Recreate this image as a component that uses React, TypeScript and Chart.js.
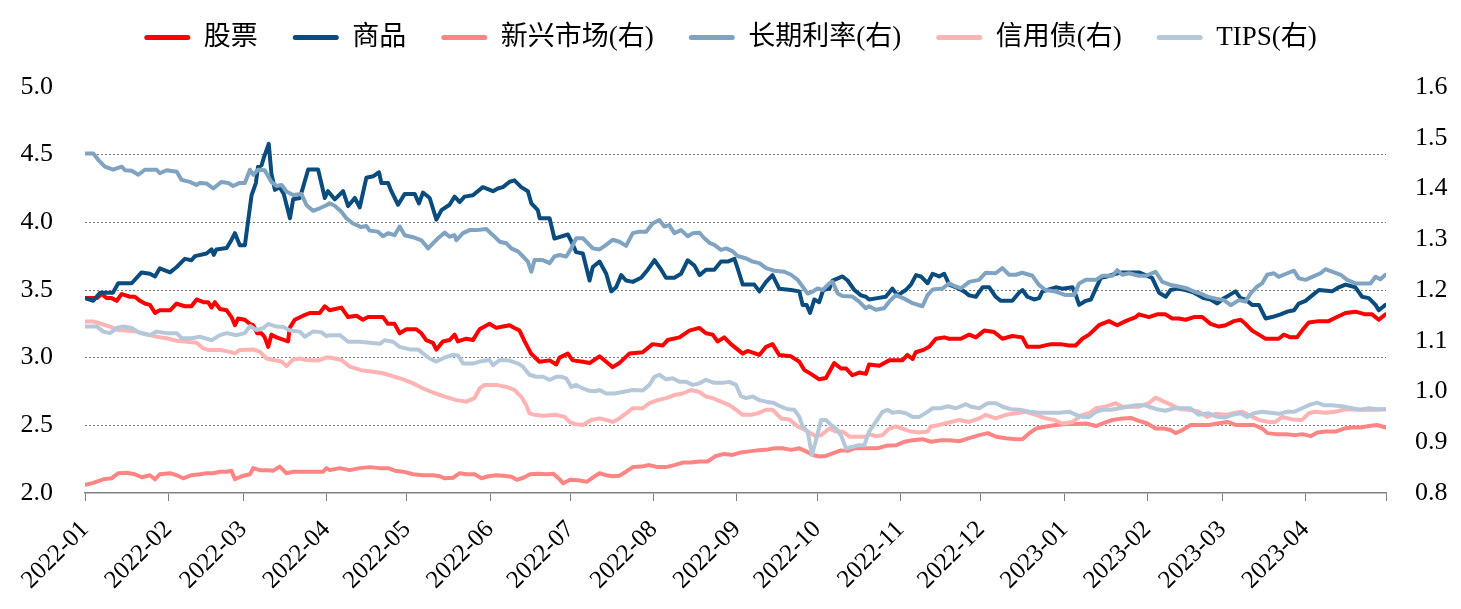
import React, { useEffect, useRef } from 'react';
import { Chart, registerables } from 'chart.js';

Chart.register(...registerables);

// x values are days since 2022-01-01
const MONTH_TICK_DAYS = [0, 31, 59, 90, 120, 151, 181, 212, 243, 273, 304, 334, 365, 396, 424, 455, 485];
const MONTH_TICK_LABELS = [
  '2022-01', '2022-02', '2022-03', '2022-04', '2022-05', '2022-06', '2022-07', '2022-08',
  '2022-09', '2022-10', '2022-11', '2022-12', '2023-01', '2023-02', '2023-03', '2023-04', '',
];

const LEFT_TICKS = [2.0, 2.5, 3.0, 3.5, 4.0, 4.5, 5.0];
const RIGHT_TICKS = [0.8, 0.9, 1.0, 1.1, 1.2, 1.3, 1.4, 1.5, 1.6];

const SERIES_NAMES = ['股票', '商品', '新兴市场(右)', '长期利率(右)', '信用债(右)', 'TIPS(右)'];

// [day, value] — left axis
const equity: number[][] = [
  [0, 3.44], [4.4, 3.44], [6.2, 3.47], [8.1, 3.44], [9.9, 3.44], [11.8, 3.42], [13.7, 3.47], [16.8, 3.45], [18.6, 3.45], [20.5, 3.42],
  [22.3, 3.40], [24.2, 3.39], [26.1, 3.33], [27.9, 3.35], [31.7, 3.35], [34.1, 3.40], [37.2, 3.38], [39.7, 3.38], [41.6, 3.43], [44.1, 3.41],
  [45.9, 3.41], [47.2, 3.37], [48.4, 3.41], [50.3, 3.36], [52.8, 3.35], [54.6, 3.30], [55.9, 3.24], [57.1, 3.29], [59.6, 3.28], [61.4, 3.25],
  [62.7, 3.24], [64.2, 3.18], [65.8, 3.18], [67, 3.15], [68.3, 3.08], [69.5, 3.17], [71.4, 3.15], [75.7, 3.12], [76.3, 3.22], [78.2, 3.28],
  [81.3, 3.31], [83.8, 3.33], [87.5, 3.33], [89.4, 3.38], [91.2, 3.35], [95.6, 3.37], [98.1, 3.30], [101.2, 3.31], [103.6, 3.28], [105.5, 3.30],
  [111.1, 3.30], [112.9, 3.25], [115.4, 3.25], [117.3, 3.18], [119.8, 3.21], [123.5, 3.21], [125.4, 3.18], [127.2, 3.13], [129.7, 3.11], [131, 3.06],
  [133.4, 3.12], [135.9, 3.13], [137.8, 3.17], [139, 3.12], [142.1, 3.14], [144.6, 3.13], [147.1, 3.21], [150.8, 3.25], [153.3, 3.22], [155.8, 3.23],
  [158.3, 3.24], [160.1, 3.22], [162, 3.20], [163.9, 3.12], [166.3, 3.03], [169.4, 2.97], [173.2, 2.98], [175.7, 2.95], [176.9, 3.00], [180, 3.03],
  [181.8, 2.98], [185.6, 2.97], [188.1, 2.96], [191.8, 3.01], [194.3, 2.97], [196.7, 2.93], [199.2, 2.96], [202.9, 3.03], [207.9, 3.04], [211.6, 3.10],
  [215.4, 3.09], [217.2, 3.13], [221.6, 3.15], [225.3, 3.20], [229, 3.22], [231.5, 3.18], [234, 3.17], [235.8, 3.12], [238.3, 3.15], [240.8, 3.10],
  [245.2, 3.03], [247, 3.05], [251.4, 3.02], [253.9, 3.08], [256.3, 3.10], [258.8, 3.02], [263.2, 3.01], [266.3, 2.97], [268.1, 2.91], [270.6, 2.88],
  [273.7, 2.84], [276.2, 2.85], [279.3, 2.96], [281.8, 2.92], [283.7, 2.92], [286.1, 2.87], [288.6, 2.89], [291.1, 2.88], [292.3, 2.95], [296.1, 2.94],
  [299.8, 2.98], [304.7, 2.98], [306.6, 3.02], [308.5, 2.99], [309.7, 3.04], [312.8, 3.06], [314.7, 3.08], [317.2, 3.14], [320.3, 3.15], [322.1, 3.14],
  [326.5, 3.14], [329.6, 3.17], [332.1, 3.15], [335.2, 3.20], [338.9, 3.19], [342, 3.14], [345.7, 3.16], [349.4, 3.15], [351.3, 3.08], [355.6, 3.08],
  [360, 3.10], [363.7, 3.10], [366.8, 3.09], [369.3, 3.09], [371.8, 3.14], [374.3, 3.17], [378, 3.24], [381.7, 3.27], [384.8, 3.24], [387.9, 3.27],
  [391.7, 3.30], [392.9, 3.32], [396.6, 3.30], [399.7, 3.32], [402.8, 3.32], [405.3, 3.29], [407.8, 3.29], [410.3, 3.28], [413.4, 3.30], [416.5, 3.30],
  [419.6, 3.25], [422.7, 3.23], [425.2, 3.24], [428.3, 3.27], [430.8, 3.28], [432.6, 3.25], [435.1, 3.20], [437.6, 3.17], [440.1, 3.14], [442.5, 3.14],
  [445, 3.14], [446.9, 3.17], [449.4, 3.15], [451.8, 3.15], [453.7, 3.20], [456.2, 3.26], [459.9, 3.27], [463.6, 3.27], [466.7, 3.30], [469.9, 3.33],
  [473.6, 3.34], [477.3, 3.32], [479.8, 3.32], [482.3, 3.28], [484.8, 3.32],
];

// [day, value] — left axis
const commodity: number[][] = [
  [0, 3.44], [3.1, 3.42], [5.6, 3.48], [10.4, 3.48], [12.4, 3.55], [17.4, 3.55], [21.1, 3.63], [24.2, 3.62], [26.1, 3.60], [27.9, 3.66],
  [31.7, 3.63], [34.2, 3.67], [37.2, 3.73], [39.7, 3.72], [41, 3.75], [45.3, 3.77], [47.2, 3.80], [48, 3.76], [49, 3.80], [52.8, 3.81],
  [54.6, 3.87], [55.9, 3.92], [57.7, 3.83], [59.6, 3.83], [60.8, 4.01], [62.1, 4.20], [63.7, 4.29], [64.5, 4.41], [65.8, 4.42], [66.7, 4.48],
  [68.5, 4.58], [69.5, 4.36], [70.8, 4.24], [72.6, 4.26], [74.1, 4.21], [76.4, 4.03], [77.6, 4.17], [80.1, 4.18], [81.3, 4.26], [83.2, 4.39],
  [86.9, 4.39], [89.4, 4.18], [90.6, 4.23], [93.1, 4.17], [96.2, 4.23], [98.1, 4.12], [100.6, 4.18], [102.4, 4.11], [104.9, 4.33], [107.4, 4.34],
  [109.6, 4.37], [110.5, 4.29], [113, 4.29], [114.2, 4.23], [116.7, 4.13], [119.2, 4.21], [122.9, 4.21], [124.5, 4.14], [126, 4.22], [128.5, 4.18],
  [131, 4.02], [132.9, 4.09], [135.9, 4.13], [137.8, 4.19], [139.7, 4.15], [141.5, 4.19], [144.6, 4.20], [148.3, 4.26], [152.1, 4.23], [153.9, 4.25],
  [155.8, 4.26], [158.3, 4.30], [160.1, 4.31], [162.6, 4.26], [165.1, 4.23], [166.4, 4.14], [168.8, 4.09], [169.5, 4.03], [173.2, 4.03], [175, 3.88],
  [180, 3.91], [181.3, 3.86], [183.1, 3.78], [185.6, 3.77], [188.1, 3.57], [189.3, 3.67], [191.8, 3.71], [194.3, 3.62], [196.2, 3.49], [198, 3.52],
  [199.9, 3.61], [201.7, 3.57], [204.2, 3.56], [207.3, 3.59], [209.8, 3.65], [212.3, 3.72], [214.8, 3.65], [216.6, 3.59], [219.7, 3.59], [222.2, 3.62],
  [224.7, 3.72], [227.2, 3.68], [229.1, 3.61], [231.5, 3.65], [234.6, 3.65], [237.1, 3.71], [239.6, 3.71], [242.1, 3.73], [243.3, 3.66], [245.2, 3.54],
  [249.5, 3.54], [251.4, 3.49], [253.9, 3.56], [256.3, 3.61], [258.8, 3.51], [263.2, 3.50], [266.3, 3.49], [267.5, 3.39], [269, 3.39], [270.3, 3.33],
  [271.9, 3.43], [273.7, 3.41], [275.2, 3.50], [277.5, 3.51], [278.7, 3.57], [282.4, 3.60], [284.3, 3.57], [286.8, 3.50], [289.3, 3.46], [291.1, 3.45],
  [292.3, 3.43], [295.4, 3.44], [298.5, 3.45], [301, 3.51], [302.9, 3.46], [306, 3.50], [307.9, 3.54], [309.8, 3.61], [311.6, 3.60], [314.1, 3.55],
  [316, 3.62], [318.4, 3.60], [320.3, 3.62], [322.2, 3.54], [324.7, 3.52], [327.7, 3.49], [329.6, 3.46], [332.1, 3.45], [334.6, 3.52], [337.1, 3.52],
  [339.5, 3.45], [341.4, 3.42], [345.7, 3.42], [348.2, 3.48], [349.5, 3.50], [351.3, 3.45], [353.8, 3.43], [355.7, 3.44], [356.9, 3.49], [358.8, 3.50],
  [361.9, 3.52], [364.4, 3.51], [368.1, 3.52], [369.4, 3.46], [370.6, 3.39], [373.1, 3.42], [375, 3.43], [376.8, 3.51], [378.7, 3.59], [381.1, 3.60],
  [384.2, 3.62], [386.7, 3.63], [390.4, 3.63], [392.9, 3.63], [397.8, 3.59], [400.4, 3.48], [402.9, 3.45], [404.7, 3.50], [407.2, 3.51], [410.3, 3.50],
  [413.4, 3.48], [417.1, 3.44], [419.6, 3.43], [422.1, 3.40], [424.6, 3.44], [426.4, 3.46], [428.9, 3.49], [430.8, 3.44], [432.6, 3.43], [435.1, 3.39],
  [437.6, 3.39], [440.1, 3.29], [442.5, 3.30], [445.7, 3.32], [448.2, 3.34], [450.7, 3.35], [452.5, 3.40], [455, 3.42], [457.5, 3.46], [460, 3.50],
  [464.9, 3.49], [467.4, 3.52], [469.9, 3.54], [473.6, 3.52], [476.1, 3.45], [478.6, 3.44], [481.1, 3.39], [482.3, 3.35], [484.8, 3.39],
];

// [day, value] — right axis
const emerging: number[][] = [
  [0, 0.816], [3.1, 0.820], [6.8, 0.827], [9.9, 0.829], [12.4, 0.839], [15.5, 0.840], [18.6, 0.837], [21.1, 0.831], [24.2, 0.835], [26.1, 0.827],
  [27.9, 0.837], [31.7, 0.839], [34.2, 0.835], [36.6, 0.829], [39.7, 0.835], [42.8, 0.837], [45.3, 0.839], [47.8, 0.839], [50.3, 0.842], [52.8, 0.842],
  [54.6, 0.844], [55.9, 0.827], [58.4, 0.833], [61.5, 0.837], [62.7, 0.849], [65.2, 0.845], [68.3, 0.845], [70.2, 0.844], [72.6, 0.852], [75.1, 0.839],
  [77.6, 0.842], [81.3, 0.842], [85, 0.842], [88.8, 0.842], [90, 0.849], [91.2, 0.845], [95, 0.849], [98.7, 0.845], [102.4, 0.849], [106.1, 0.851],
  [109.9, 0.849], [113, 0.849], [115.5, 0.844], [118.6, 0.842], [122.3, 0.837], [126, 0.835], [129.8, 0.835], [132.3, 0.833], [134.1, 0.829], [137.2, 0.830],
  [139.7, 0.839], [142.2, 0.837], [145.3, 0.837], [147.8, 0.829], [150.3, 0.833], [153.4, 0.835], [155.9, 0.834], [159, 0.832], [160.9, 0.826], [163.4, 0.830],
  [165.9, 0.837], [169, 0.838], [172.1, 0.837], [174.6, 0.838], [177.1, 0.826], [178.3, 0.819], [180.8, 0.826], [183.9, 0.825], [187, 0.822], [188.9, 0.829],
  [191.8, 0.839], [194.3, 0.835], [196.7, 0.833], [199.2, 0.834], [201.7, 0.842], [204.2, 0.851], [207.3, 0.852], [210.4, 0.855], [213.5, 0.851], [216.6, 0.851],
  [219.7, 0.855], [222.8, 0.860], [225.9, 0.860], [229, 0.862], [232.1, 0.862], [235.2, 0.873], [238.3, 0.877], [241.4, 0.875], [244.5, 0.880], [247.6, 0.882],
  [250.7, 0.884], [253.9, 0.885], [257, 0.888], [260.1, 0.888], [263.2, 0.885], [266.3, 0.888], [268.8, 0.882], [271.3, 0.875], [273.7, 0.872], [276.2, 0.873],
  [278.7, 0.878], [281.8, 0.884], [284.3, 0.883], [286.8, 0.888], [289.9, 0.888], [292.3, 0.888], [295.4, 0.888], [298.6, 0.893], [302.3, 0.894], [305.4, 0.901],
  [308.5, 0.904], [312.2, 0.906], [315.4, 0.901], [319.1, 0.904], [322.2, 0.904], [325.9, 0.902], [329.6, 0.908], [333.4, 0.914], [336.5, 0.918], [339.6, 0.911],
  [343.3, 0.908], [347.1, 0.906], [349.5, 0.906], [352.1, 0.918], [354.5, 0.927], [358.3, 0.931], [362, 0.934], [365.7, 0.936], [369.5, 0.936], [373.2, 0.937],
  [376.9, 0.932], [379.4, 0.937], [383.1, 0.944], [386.8, 0.947], [389.9, 0.948], [392.9, 0.942], [396, 0.937], [399.1, 0.927], [402.2, 0.927], [404.7, 0.924],
  [406.6, 0.918], [409.1, 0.924], [412.2, 0.934], [415.3, 0.934], [419, 0.934], [422.1, 0.937], [425.9, 0.940], [429, 0.934], [432.7, 0.934], [435.8, 0.934],
  [438.9, 0.927], [440.8, 0.918], [443.9, 0.916], [447.6, 0.916], [451.3, 0.914], [453.8, 0.916], [456.9, 0.912], [459.4, 0.919], [462.5, 0.921], [466.2, 0.921],
  [469.3, 0.927], [472.4, 0.929], [475.5, 0.929], [478.6, 0.932], [481.7, 0.934], [484.8, 0.929],
];

// [day, value] — right axis
const longRate: number[][] = [
  [0, 1.469], [3.1, 1.469], [5.0, 1.456], [7.4, 1.443], [10.5, 1.437], [13.7, 1.443], [14.9, 1.436], [17.4, 1.435], [19.9, 1.427], [22.3, 1.437],
  [26.7, 1.437], [27.9, 1.430], [30.4, 1.436], [34.2, 1.433], [36.0, 1.417], [39.1, 1.413], [41.6, 1.407], [42.8, 1.411], [45.3, 1.410], [47.8, 1.400],
  [50.9, 1.413], [53.4, 1.411], [55.2, 1.405], [57.7, 1.411], [59.6, 1.411], [61.5, 1.437], [62.7, 1.427], [64.5, 1.437], [67.0, 1.436], [69.5, 1.413],
  [71.4, 1.405], [73.3, 1.407], [75.1, 1.394], [77.6, 1.387], [80.7, 1.389], [82.6, 1.367], [85.0, 1.356], [87.5, 1.361], [90.0, 1.367], [91.2, 1.371],
  [93.1, 1.366], [95.6, 1.354], [97.5, 1.341], [99.9, 1.331], [103.0, 1.324], [104.9, 1.326], [106.1, 1.317], [109.2, 1.315], [111.1, 1.306], [113.0, 1.312],
  [115.4, 1.308], [117.3, 1.325], [119.2, 1.308], [122.3, 1.304], [125.4, 1.298], [127.9, 1.282], [129.7, 1.292], [131.6, 1.302], [134.1, 1.313], [135.9, 1.305],
  [137.8, 1.308], [138.4, 1.298], [140.9, 1.312], [143.4, 1.318], [145.9, 1.318], [149.6, 1.320], [152.1, 1.308], [154.6, 1.295], [157.1, 1.292], [158.9, 1.282],
  [161.4, 1.276], [163.3, 1.266], [165.1, 1.256], [166.4, 1.236], [167.6, 1.259], [170.7, 1.259], [173.2, 1.253], [175, 1.266], [176.9, 1.269], [179.4, 1.266],
  [181.3, 1.282], [183.1, 1.302], [185.6, 1.302], [187.5, 1.292], [189.3, 1.282], [191.8, 1.280], [194.3, 1.289], [196.7, 1.299], [199.2, 1.295], [201.7, 1.287],
  [204.2, 1.312], [206.7, 1.315], [209.2, 1.315], [211.6, 1.331], [214.1, 1.338], [216, 1.325], [217.8, 1.328], [219.7, 1.312], [222.2, 1.318], [224.7, 1.306],
  [226.6, 1.312], [229, 1.313], [230.9, 1.302], [232.8, 1.293], [234.6, 1.289], [237.1, 1.279], [239, 1.282], [241.5, 1.276], [243.3, 1.267], [246.5, 1.262],
  [248.9, 1.256], [251.4, 1.253], [253.9, 1.243], [257, 1.238], [260.7, 1.236], [263.2, 1.230], [265.7, 1.220], [267.5, 1.207], [269.4, 1.193], [271.3, 1.197],
  [273.1, 1.203], [275, 1.200], [277.5, 1.213], [278.7, 1.216], [280.6, 1.193], [282.4, 1.188], [286.1, 1.187], [288.6, 1.177], [291.1, 1.164], [292.3, 1.168],
  [294.8, 1.161], [297.9, 1.164], [299.8, 1.177], [302.3, 1.190], [305.4, 1.183], [308.5, 1.174], [312.2, 1.168], [314.1, 1.190], [316, 1.201], [319.7, 1.203],
  [322.1, 1.213], [324.6, 1.207], [326.5, 1.203], [329.6, 1.216], [333.3, 1.220], [335.8, 1.234], [339.5, 1.233], [342, 1.243], [344.5, 1.230], [347, 1.230],
  [349.4, 1.234], [353.2, 1.228], [355.6, 1.210], [358.1, 1.200], [361.8, 1.197], [365.6, 1.190], [368.7, 1.190], [370.6, 1.213], [373.1, 1.220], [376.8, 1.220],
  [379.3, 1.228], [383, 1.228], [384.8, 1.239], [386.7, 1.230], [389.2, 1.233], [392.9, 1.228], [395.4, 1.228], [399.1, 1.236], [401.6, 1.216], [404.7, 1.210],
  [407.8, 1.207], [410.9, 1.203], [413.4, 1.197], [415.9, 1.193], [418.4, 1.187], [421.5, 1.183], [424.6, 1.180], [427.1, 1.170], [430.2, 1.180], [432.6, 1.177],
  [434.5, 1.193], [437, 1.207], [438.8, 1.213], [440.7, 1.230], [443.2, 1.233], [445, 1.226], [448.2, 1.233], [450.7, 1.238], [452.5, 1.223], [455, 1.220],
  [457.5, 1.226], [460.6, 1.233], [462.4, 1.241], [464.9, 1.236], [468.1, 1.230], [470.5, 1.220], [473.6, 1.213], [476.1, 1.213], [479.2, 1.213], [481.1, 1.226],
  [482.9, 1.221], [484.8, 1.230],
];

// [day, value] — right axis
const credit: number[][] = [
  [0, 1.138], [3.1, 1.138], [6.2, 1.133], [9.3, 1.128], [12.4, 1.121], [15.5, 1.120], [19.2, 1.118], [23, 1.113], [26.7, 1.108], [30.4, 1.105],
  [34.2, 1.100], [37.9, 1.098], [41.6, 1.096], [44.1, 1.085], [45.9, 1.082], [50.3, 1.082], [54, 1.078], [55.9, 1.075], [57.7, 1.082], [62.7, 1.083],
  [65.2, 1.078], [67.7, 1.065], [70.1, 1.062], [73.3, 1.059], [75.1, 1.050], [77.6, 1.063], [80.1, 1.065], [82.6, 1.062], [86.9, 1.061], [90, 1.067],
  [91.2, 1.067], [95.6, 1.062], [98.7, 1.049], [103, 1.042], [107.4, 1.039], [111.1, 1.036], [114.8, 1.030], [118.6, 1.024], [122.3, 1.016], [126, 1.006],
  [129.7, 0.998], [134.1, 0.990], [138.4, 0.983], [142.2, 0.980], [145.2, 0.987], [147.1, 1.006], [149, 1.013], [153.3, 1.013], [157.1, 1.009], [160.1, 1.003],
  [162.6, 0.990], [164.5, 0.973], [165.7, 0.957], [167.6, 0.954], [170.7, 0.952], [175.7, 0.954], [178.8, 0.950], [180.6, 0.940], [182.5, 0.936], [185.6, 0.934],
  [188.7, 0.944], [191.8, 0.947], [194.3, 0.944], [196.7, 0.940], [199.2, 0.947], [201.7, 0.957], [204.2, 0.967], [207.9, 0.967], [210.4, 0.977], [213.5, 0.983],
  [216.6, 0.987], [219.7, 0.993], [222.8, 0.996], [225.9, 1.003], [229, 0.999], [231.5, 0.990], [234, 0.987], [237.1, 0.980], [240.2, 0.973], [242.7, 0.964],
  [245.2, 0.954], [248.3, 0.954], [250.8, 0.957], [253.9, 0.964], [256.3, 0.964], [259.5, 0.947], [262.6, 0.945], [265.7, 0.931], [267.5, 0.927], [269.4, 0.921],
  [272.5, 0.912], [274.4, 0.914], [277.5, 0.927], [280, 0.921], [282.5, 0.921], [285, 0.911], [288.1, 0.911], [291.2, 0.911], [292.3, 0.916], [294.8, 0.912],
  [297.3, 0.914], [299.8, 0.927], [302.3, 0.931], [304.7, 0.927], [307.9, 0.921], [310.9, 0.919], [314.1, 0.921], [315.3, 0.931], [318.4, 0.934], [322.1, 0.939],
  [325.9, 0.944], [329.6, 0.940], [333.3, 0.947], [335.8, 0.954], [339.5, 0.947], [343.3, 0.954], [347, 0.957], [350.7, 0.960], [354.5, 0.954], [358.2, 0.947],
  [361.3, 0.944], [364.4, 0.937], [368.1, 0.940], [371.8, 0.954], [374.3, 0.957], [376.8, 0.967], [380.5, 0.970], [384.3, 0.977], [386.7, 0.970], [390.5, 0.970],
  [392.9, 0.970], [396.6, 0.977], [399.1, 0.988], [402.2, 0.980], [405.3, 0.973], [408.4, 0.965], [411.5, 0.964], [415.2, 0.960], [418.3, 0.950], [421.5, 0.956],
  [425.2, 0.954], [428.9, 0.958], [431.4, 0.960], [434.5, 0.952], [437.6, 0.944], [441.3, 0.940], [443.8, 0.940], [446.3, 0.950], [450, 0.945], [453.7, 0.944],
  [456.2, 0.957], [458.7, 0.960], [462.4, 0.958], [466.1, 0.960], [469.9, 0.965], [473.6, 0.964], [477.3, 0.964], [481, 0.964], [484.8, 0.965],
];

// [day, value] — right axis
const tips: number[][] = [
  [0, 1.128], [4.4, 1.128], [6.8, 1.118], [9.3, 1.115], [11.8, 1.125], [14.3, 1.128], [17.4, 1.125], [20.5, 1.115], [24.2, 1.111], [26.7, 1.118],
  [30.4, 1.115], [34.2, 1.115], [36, 1.105], [39.7, 1.105], [42.8, 1.108], [47.2, 1.101], [50.3, 1.111], [52.8, 1.115], [56.5, 1.111], [59.6, 1.115],
  [61.5, 1.129], [63.9, 1.121], [66.4, 1.125], [68.3, 1.133], [71.4, 1.128], [73.9, 1.127], [76.4, 1.120], [80.1, 1.118], [81.9, 1.108], [85, 1.118],
  [88.1, 1.117], [90, 1.109], [91.2, 1.111], [95, 1.111], [98.1, 1.098], [102.4, 1.098], [106.1, 1.096], [109.9, 1.094], [111.7, 1.101], [114.8, 1.098],
  [117.3, 1.088], [121.1, 1.083], [124.2, 1.083], [126, 1.075], [128.5, 1.065], [131, 1.059], [134.1, 1.067], [137.2, 1.072], [139.1, 1.071], [140.9, 1.055],
  [144.6, 1.055], [147.1, 1.059], [150.8, 1.062], [152.1, 1.052], [154.6, 1.062], [158.3, 1.061], [161.4, 1.055], [163.3, 1.049], [165.7, 1.033], [168.2, 1.029],
  [170.7, 1.029], [173.2, 1.023], [175.7, 1.029], [177.5, 1.029], [179.4, 1.026], [181.3, 1.009], [183.1, 1.013], [185.6, 1.006], [188.1, 1.001], [190.6, 1.001],
  [191.8, 1.003], [194.3, 0.996], [197.4, 0.996], [200.5, 0.999], [204.2, 1.003], [207.9, 1.002], [210.4, 1.013], [212.3, 1.029], [214.1, 1.033], [216.6, 1.024],
  [219.1, 1.026], [221.6, 1.019], [224.1, 1.019], [226.6, 1.013], [229, 1.016], [231.5, 1.023], [234.6, 1.017], [237.7, 1.017], [240.2, 1.019], [242.7, 1.013],
  [244.5, 0.991], [246.4, 0.987], [248.9, 0.990], [251.4, 0.983], [253.9, 0.980], [256.4, 0.978], [259.5, 0.970], [261.9, 0.965], [264.4, 0.964], [266.3, 0.950],
  [267.5, 0.931], [269.4, 0.921], [271, 0.875], [272.5, 0.904], [274.4, 0.944], [276.2, 0.944], [278.1, 0.934], [280, 0.927], [281.8, 0.914], [283.7, 0.888],
  [286.1, 0.891], [288, 0.894], [290.5, 0.894], [292.3, 0.921], [294.8, 0.940], [297.3, 0.960], [299.2, 0.964], [301, 0.958], [303.5, 0.960], [306, 0.957],
  [308.5, 0.950], [311, 0.950], [314.1, 0.960], [316, 0.967], [319.1, 0.967], [321.6, 0.971], [324.7, 0.967], [328.4, 0.975], [330.3, 0.970], [333.4, 0.967],
  [336.5, 0.977], [339.6, 0.977], [342.1, 0.970], [345.2, 0.965], [348.3, 0.964], [352.1, 0.960], [355.8, 0.958], [359.5, 0.958], [363.2, 0.958], [367, 0.960],
  [369.5, 0.954], [372, 0.950], [374.4, 0.950], [376.9, 0.960], [379.4, 0.964], [382.5, 0.964], [385.6, 0.967], [388.7, 0.970], [391.8, 0.973], [394.9, 0.973],
  [396.6, 0.970], [399.7, 0.965], [402.8, 0.962], [405.9, 0.967], [409, 0.967], [412.1, 0.967], [415.2, 0.954], [418.9, 0.957], [422.1, 0.950], [425.2, 0.949],
  [427.7, 0.954], [430.8, 0.957], [433.2, 0.950], [435.7, 0.957], [438.8, 0.960], [441.9, 0.958], [445, 0.956], [448.2, 0.960], [450.7, 0.960], [453.7, 0.967],
  [456.2, 0.973], [459.3, 0.978], [461.8, 0.973], [464.9, 0.973], [468.6, 0.971], [472.4, 0.967], [475.5, 0.964], [478.6, 0.967], [481.7, 0.965], [484.8, 0.965],
];

const SERIES_DATA = [equity, commodity, emerging, longRate, credit, tips];
const SERIES_AXES = ['y', 'y', 'y1', 'y1', 'y1', 'y1'];
const SERIES_COLORS = ['#FF0000', '#0A4C7D', '#FF8585', '#7FA3C0', '#FFB3B3', '#B4C8DA'];
// drawing order: lower number is drawn on top
const SERIES_ORDER = [5, 4, 3, 2, 1, 0];

const SERIF = '"Liberation Serif", "Times New Roman", serif';
const LEGEND_FONT = '"Liberation Serif", "Noto Sans CJK SC", serif';

const legendFitPlugin = {
  id: 'legendFit',
  beforeInit(chart: any) {
    const legend = chart.legend;
    if (!legend) return;
    const origFit = legend.fit;
    legend.fit = function () {
      origFit.call(this);
      this.height = 98;
    };
  },
};

export default function App() {
  const canvasRef = useRef<HTMLCanvasElement | null>(null);

  useEffect(() => {
    if (!canvasRef.current) return;
    const datasets = SERIES_DATA.map((series, i) => ({
      label: SERIES_NAMES[i],
      data: series.map(([d, v]) => ({ x: d, y: v })),
      yAxisID: SERIES_AXES[i],
      borderColor: SERIES_COLORS[i],
      backgroundColor: SERIES_COLORS[i],
      borderWidth: 4,
      pointRadius: 0,
      pointHoverRadius: 0,
      tension: 0,
      borderJoinStyle: 'round' as const,
      borderCapStyle: 'round' as const,
      order: SERIES_ORDER[i],
    }));

    const chart = new Chart(canvasRef.current, {
      type: 'line',
      data: { datasets },
      plugins: [legendFitPlugin],
      options: {
        animation: false,
        responsive: true,
        maintainAspectRatio: false,
        layout: { padding: { top: -11, left: 0, right: 0, bottom: 0 } },
        plugins: {
          tooltip: { enabled: false },
          legend: {
            display: true,
            position: 'top',
            labels: {
              color: '#000',
              font: { family: LEGEND_FONT, size: 27 },
              boxWidth: 46,
              boxHeight: 5,
              padding: 35,
              useBorderRadius: true,
              borderRadius: 2.5,
              sort: (a: any, b: any) => a.datasetIndex - b.datasetIndex,
              generateLabels: (ch: any) =>
                (Chart.defaults.plugins.legend.labels.generateLabels as any)(ch).map((l: any) => ({
                  ...l,
                  lineWidth: 0,
                  borderRadius: 2.5,
                })),
            },
          },
        },
        scales: {
          x: {
            type: 'linear',
            min: 0,
            max: 485,
            afterBuildTicks: (scale: any) => {
              scale.ticks = MONTH_TICK_DAYS.map((v) => ({ value: v }));
            },
            afterFit: (scale: any) => {
              scale.height = 116;
            },
            ticks: {
              autoSkip: false,
              maxRotation: 45,
              minRotation: 45,
              padding: 14,
              color: '#000',
              font: { family: SERIF, size: 25 },
              callback: (_v: any, i: number) => MONTH_TICK_LABELS[i] ?? '',
            },
            grid: {
              drawOnChartArea: false,
              drawTicks: true,
              tickLength: 8,
              color: '#808080',
              lineWidth: 1,
            },
            border: { display: true, color: '#808080', width: 1.5 },
          },
          y: {
            type: 'linear',
            position: 'left',
            min: 2,
            max: 5,
            afterBuildTicks: (scale: any) => {
              scale.ticks = LEFT_TICKS.map((v) => ({ value: v }));
            },
            afterFit: (scale: any) => {
              scale.width = 85;
            },
            ticks: {
              padding: 32,
              color: '#000',
              font: { family: SERIF, size: 26 },
              callback: (v: any) => Number(v).toFixed(1),
            },
            grid: {
              drawTicks: false,
              lineWidth: 1,
              color: (ctx: any) =>
                ctx.tick && (ctx.tick.value === 2 || ctx.tick.value === 5) ? 'rgba(0,0,0,0)' : '#7a7a7a',
            },
            border: { display: false, dash: [2, 2] },
          },
          y1: {
            type: 'linear',
            position: 'right',
            min: 0.8,
            max: 1.6,
            afterBuildTicks: (scale: any) => {
              scale.ticks = RIGHT_TICKS.map((v) => ({ value: v }));
            },
            afterFit: (scale: any) => {
              scale.width = 75;
            },
            ticks: {
              padding: 29,
              color: '#000',
              font: { family: SERIF, size: 26 },
              callback: (v: any) => Number(v).toFixed(1),
            },
            grid: { drawOnChartArea: false, drawTicks: false },
            border: { display: false },
          },
        },
      },
    });

    return () => chart.destroy();
  }, []);

  return (
    <div style={{ position: 'absolute', left: 0, top: 0, width: 1461, height: 609, background: '#fff' }}>
      <canvas ref={canvasRef} />
    </div>
  );
}
